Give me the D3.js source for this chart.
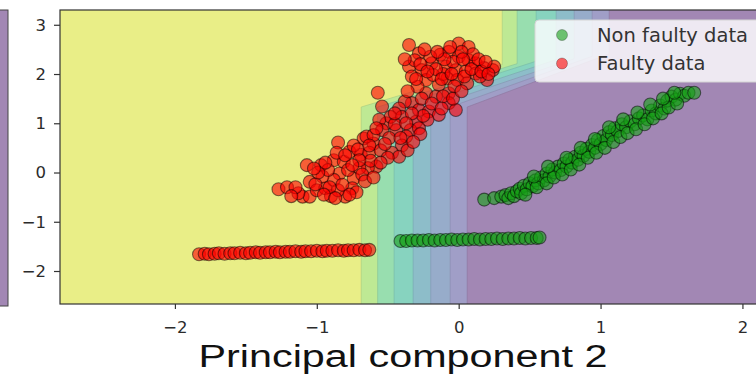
<!DOCTYPE html>
<html>
<head>
<meta charset="utf-8">
<script src="https://cdn.jsdelivr.net/npm/d3@7"></script>
<style>
  body { margin: 0; background: #ffffff; }
  svg { display: block; }
</style>
</head>
<body>
<svg id="chart" width="756" height="377"></svg>
<script>
// Axis ranges and ticks
const xDomain = [-2.81, 2.3];
const yDomain = [-2.67, 3.3];
const xTicks = [-2, -1, 0, 1, 2];
const yTicks = [-2, -1, 0, 1, 2, 3];

// Decision-region contour boundaries (one per level step, left to right).
// Each boundary rises vertically at bandBottomX, bends at bandKneeY,
// runs diagonally to (bandTopX, bandShoulderY), then rises vertically.
const bandBottomX = [-0.687, -0.571, -0.455, -0.321, -0.197, -0.060, 0.060];
const bandTopX = [0.307, 0.412, 0.546, 0.687, 0.814, 0.941, 1.061];
const bandKneeY = 1.33;
const bandShoulderY = [2.19, 2.21, 2.26, 2.29, 2.31, 2.36, 2.41];

// Translucent viridis fill for each level, high class score (yellow) to low (purple)
const bandColors = ["#e9ee87", "#bee994", "#98deaf", "#87d3bf", "#8dbdc9", "#97acca", "#a09ec7", "#a287b4"];

// Series labels
const seriesNames = ["Non faulty data", "Faulty data"];

// Non faulty samples (x, y)
const normalLine = [
  [-0.41,-1.39],[-0.37,-1.39],[-0.33,-1.38],[-0.29,-1.38],[-0.25,-1.38],[-0.21,-1.37],
  [-0.17,-1.38],[-0.13,-1.37],[-0.09,-1.37],[-0.05,-1.36],[-0.01,-1.37],[0.03,-1.36],
  [0.07,-1.36],[0.11,-1.35],[0.15,-1.36],[0.19,-1.35],[0.23,-1.35],[0.27,-1.34],
  [0.31,-1.35],[0.35,-1.34],[0.39,-1.34],[0.43,-1.33],[0.47,-1.34],[0.51,-1.33],
  [0.55,-1.33],[0.57,-1.32]
];
const normalDiag = [
  [0.18,-0.55],[0.25,-0.52],[0.30,-0.49],[0.33,-0.46],[0.35,-0.52],[0.37,-0.42],
  [0.39,-0.48],[0.41,-0.38],[0.43,-0.33],[0.44,-0.42],[0.46,-0.27],[0.48,-0.34],
  [0.50,-0.22],[0.52,-0.28],[0.54,-0.16],[0.56,-0.22],[0.58,-0.10],[0.60,-0.16],
  [0.62,-0.02],[0.64,-0.08],[0.66,0.06],[0.68,0.00],[0.70,0.12],[0.72,0.05],
  [0.74,0.18],[0.76,0.12],[0.78,0.26],[0.80,0.20],[0.82,0.32],[0.84,0.26],
  [0.86,0.40],[0.88,0.34],[0.90,0.48],[0.92,0.42],[0.94,0.56],[0.96,0.50],
  [0.98,0.66],[1.00,0.58],[1.02,0.74],[1.04,0.66],[1.06,0.82],[1.08,0.76],
  [1.10,0.90],[1.12,0.84],[1.15,0.98],[1.18,0.92],[1.21,1.04],[1.24,0.98],
  [1.27,1.10],[1.30,1.16],[1.33,1.08],[1.36,1.26],[1.39,1.20],[1.42,1.36],
  [1.45,1.30],[1.47,1.46],[1.50,1.54],[1.53,1.48],[1.56,1.60],[1.59,1.56],
  [1.62,1.62],[1.66,1.62],
  [0.47,-0.45],[0.55,-0.30],[0.62,-0.22],[0.67,-0.10],[0.73,-0.04],[0.79,0.06],
  [0.85,0.16],[0.91,0.30],[0.97,0.40],[1.03,0.50],[1.09,0.62],[1.14,0.72],
  [1.19,0.80],[1.25,0.88],[1.31,0.98],[1.37,1.10],[1.43,1.20],[1.48,1.32],
  [1.54,1.40],[0.76,0.30],[0.86,0.50],[0.96,0.68],[1.06,0.92],[1.16,1.08],
  [1.26,1.22],[1.35,1.38],[1.44,1.50],[1.52,1.62],[0.63,0.12],[0.53,-0.08]
];

// Faulty samples (x, y)
const faultyLine = [
  [-1.83,-1.66],[-1.79,-1.65],[-1.76,-1.66],[-1.72,-1.65],[-1.69,-1.64],[-1.65,-1.65],
  [-1.61,-1.64],[-1.58,-1.64],[-1.54,-1.63],[-1.50,-1.64],[-1.47,-1.63],[-1.43,-1.62],
  [-1.40,-1.63],[-1.36,-1.62],[-1.33,-1.62],[-1.29,-1.61],[-1.26,-1.62],[-1.22,-1.61],
  [-1.19,-1.61],[-1.15,-1.60],[-1.11,-1.61],[-1.08,-1.60],[-1.04,-1.60],[-1.00,-1.59],
  [-0.96,-1.60],[-0.93,-1.59],[-0.89,-1.59],[-0.85,-1.58],[-0.81,-1.59],[-0.78,-1.58],
  [-0.74,-1.58],[-0.70,-1.57],[-0.66,-1.58],[-0.63,-1.57]
];
const faultyCloud = [
  [-0.57,1.62],[-0.85,0.61],[-1.07,0.15],[-0.97,0.15],[-0.88,0.25],[-1.05,-0.19],
  [-1.27,-0.34],[-1.21,-0.30],[-1.10,-0.49],[-1.05,-0.49],[-1.00,-0.36],[-0.94,-0.32],
  [-0.90,-0.48],[-0.84,-0.02],[-0.81,0.22],[-0.77,0.42],[-0.74,-0.12],[-0.75,-0.32],
  [-0.80,-0.49],[-0.69,0.36],[-0.67,0.69],[-0.60,0.59],[-0.58,0.12],[-0.64,0.09],
  [-0.70,0.09],[-0.51,1.00],[-0.54,1.34],
  [-0.35,2.59],[-0.28,2.42],[-0.35,2.15],[-0.31,2.28],[-0.26,2.08],[-0.23,1.88],
  [-0.19,2.22],[-0.13,2.39],[-0.07,2.45],[0.00,2.35],[0.07,2.28],[0.12,2.22],
  [0.18,2.12],[0.24,2.08],[-0.09,2.15],[-0.02,2.08],[0.05,2.05],[0.12,2.01],
  [-0.08,1.91],[-0.01,1.88],[0.06,1.81],[-0.14,1.78],[-0.23,1.61],[-0.16,1.54],
  [-0.07,1.61],[-0.29,1.74],[-0.33,1.41],[-0.38,1.44],[-0.42,1.30],[-0.28,1.27],
  [-0.21,1.24],[-0.14,1.17],[-0.07,1.41],[-0.02,1.27],[-0.48,1.13],[-0.40,1.13],
  [-0.30,1.03],[-0.22,1.07],[-0.56,1.07],[-0.54,0.86],[-0.44,0.86],[-0.34,0.86],
  [-0.28,0.90],[-0.65,0.73],[-0.60,0.76],[-0.37,0.73],[0.20,1.88],[0.00,2.62],
  [0.07,2.55],
  [-0.74,0.55],[-0.71,0.47],[-0.63,0.40],[-0.55,0.45],[-0.78,0.05],[-0.88,-0.15],
  [-0.96,-0.08],[-1.01,-0.24],[-0.85,-0.36],[-0.68,-0.04],[-0.62,0.24],[-0.49,0.70],
  [-0.45,0.98],[-0.40,0.55],[-0.47,0.40],[0.25,2.15],[-0.11,2.00],[-0.18,1.98],
  [0.15,1.95],[-0.04,2.25],[0.10,2.40],[-0.20,2.35],[-1.13,-0.42],[-0.92,0.05],
  [-0.99,0.00],[-0.42,0.32],[-0.36,0.45],[-0.50,0.30],
  [-0.38,2.30],[-0.33,1.95],[-0.27,2.20],[-0.24,2.50],[-0.16,2.10],[-0.12,1.90],
  [-0.10,2.30],[-0.05,2.00],[-0.03,1.75],[0.02,2.45],[0.04,1.95],[0.09,2.10],
  [0.14,2.30],[0.16,2.05],[0.21,2.00],[0.19,2.25],[-0.06,2.55],[0.03,2.30],
  [-0.15,2.45],[-0.22,2.05],[-0.30,1.90],[-0.36,1.65],[-0.26,1.50],[-0.19,1.40],
  [-0.11,1.55],[-0.04,1.50],[0.02,1.65],[-0.12,1.30],[-0.25,1.15],[-0.33,1.20],
  [-0.45,1.20],[-0.37,1.00],[-0.27,0.78],[-0.32,0.62],[-0.41,0.70],[-0.52,0.58],
  [-0.58,0.90],[-0.63,0.55],[-0.70,0.25],[-0.75,0.15],[-0.66,-0.18],[-0.72,-0.40],
  [-0.82,-0.25],[-0.91,-0.30],[-0.94,0.20],[-1.02,0.08],[-0.86,0.40],[-0.80,0.35],
  [-0.55,0.20],[-0.60,-0.10],[-0.95,-0.45],[-1.15,-0.30],[-1.18,-0.48],[-0.87,-0.52],
  [-0.77,-0.45]
];

const svg = d3.select("#chart");
const plot = { left: 60, top: 10, right: 785, bottom: 304 };

const x = d3.scaleLinear().domain(xDomain).range([plot.left, plot.right]);
const y = d3.scaleLinear().domain(yDomain).range([plot.bottom, plot.top]);

// Edge of a neighbouring panel on the far left
svg.append("rect")
  .attr("x", -2).attr("y", 10).attr("width", 10).attr("height", 296)
  .attr("fill", bandColors[bandColors.length - 1])
  .attr("stroke", "#444").attr("stroke-width", 1);

svg.append("defs").append("clipPath").attr("id", "plot-clip")
  .append("rect")
  .attr("x", plot.left).attr("y", plot.top)
  .attr("width", plot.right - plot.left).attr("height", plot.bottom - plot.top);

const bands = svg.append("g").attr("clip-path", "url(#plot-clip)");

bands.append("rect")
  .attr("x", plot.left).attr("y", plot.top)
  .attr("width", plot.right - plot.left).attr("height", plot.bottom - plot.top)
  .attr("fill", bandColors[0]);

const regionLine = d3.line().x(d => x(d[0])).y(d => y(d[1]));
bandBottomX.forEach((bx, i) => {
  const pts = [
    [bx, yDomain[0]],
    [bx, bandKneeY],
    [bandTopX[i], bandShoulderY[i]],
    [bandTopX[i], yDomain[1]],
    [xDomain[1], yDomain[1]],
    [xDomain[1], yDomain[0]]
  ];
  bands.append("path")
    .attr("d", regionLine(pts) + "Z")
    .attr("fill", bandColors[i + 1]);
  bands.append("path")
    .attr("d", regionLine(pts.slice(0, 4)))
    .attr("fill", "none")
    .attr("stroke", d3.color(bandColors[i + 1]).darker(0.4))
    .attr("stroke-opacity", 0.6)
    .attr("stroke-width", 1);
});

// Scatter points
const pointsLayer = svg.append("g").attr("clip-path", "url(#plot-clip)");
function drawPoints(data, color) {
  pointsLayer.append("g").selectAll("circle")
    .data(data)
    .join("circle")
    .attr("cx", d => x(d[0]))
    .attr("cy", d => y(d[1]))
    .attr("r", 6.5)
    .attr("fill", color)
    .attr("fill-opacity", 0.6)
    .attr("stroke", "#000")
    .attr("stroke-opacity", 0.5)
    .attr("stroke-width", 1.1);
}
drawPoints(normalLine.concat(normalDiag), "#16a016");
drawPoints(faultyLine.concat(faultyCloud), "#ff0000");

// Frame
svg.append("rect")
  .attr("x", plot.left).attr("y", plot.top)
  .attr("width", plot.right - plot.left).attr("height", plot.bottom - plot.top)
  .attr("fill", "none").attr("stroke", "#333").attr("stroke-width", 1.2);

// Axes
const tickFont = "'DejaVu Sans', sans-serif";
const xAxis = svg.append("g")
  .attr("transform", `translate(0,${plot.bottom})`)
  .call(d3.axisBottom(x).tickValues(xTicks).tickSize(5).tickPadding(12)
    .tickFormat(d3.format("d")).tickSizeOuter(0));
const yAxis = svg.append("g")
  .attr("transform", `translate(${plot.left},0)`)
  .call(d3.axisLeft(y).tickValues(yTicks).tickSize(6).tickPadding(8)
    .tickFormat(d3.format("d")).tickSizeOuter(0));
[xAxis, yAxis].forEach(a => {
  a.select(".domain").remove();
  a.selectAll(".tick line").attr("stroke", "#333").attr("stroke-width", 1.2);
  a.selectAll(".tick text")
    .attr("fill", "#2b2b2b")
    .style("font-family", tickFont)
    .style("font-size", "16.5px");
});

// Legend
const legend = svg.append("g");
legend.append("rect")
  .attr("x", 535).attr("y", 20).attr("width", 240).attr("height", 62).attr("rx", 4)
  .attr("fill", "#ffffff").attr("fill-opacity", 0.82)
  .attr("stroke", "#d4d4d4");
const legendColors = ["#16a016", "#ff0000"];
seriesNames.forEach((name, i) => {
  const cy = 35 + i * 28.5;
  legend.append("circle")
    .attr("cx", 562).attr("cy", cy).attr("r", 5.5)
    .attr("fill", legendColors[i]).attr("fill-opacity", 0.6)
    .attr("stroke", "#000").attr("stroke-opacity", 0.25).attr("stroke-width", 1);
  legend.append("text")
    .attr("x", 597).attr("y", cy + 6.8)
    .attr("fill", "#333")
    .style("font-family", tickFont)
    .style("font-size", "19.5px")
    .text(name);
});

// Axis title
svg.append("text")
  .attr("x", 403).attr("y", 367)
  .attr("text-anchor", "middle")
  .attr("textLength", 409)
  .attr("lengthAdjust", "spacingAndGlyphs")
  .attr("fill", "#111")
  .style("font-family", "'Liberation Sans', sans-serif")
  .style("font-size", "31px")
  .text("Principal component 2");
</script>
</body>
</html>
